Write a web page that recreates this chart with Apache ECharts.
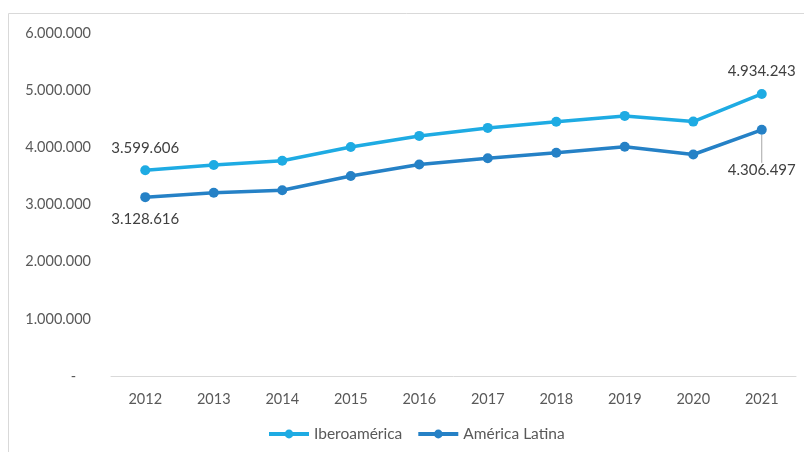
<!DOCTYPE html>
<html>
<head>
<meta charset="utf-8">
<script src="https://cdn.jsdelivr.net/npm/echarts@6/dist/echarts.min.js"></script>
<style>
  html, body { margin: 0; padding: 0; background: #fff; }
  #chart { width: 804px; height: 452px; }
</style>
</head>
<body>
<div id="chart"></div>
<script>
var years = ['2012', '2013', '2014', '2015', '2016', '2017', '2018', '2019', '2020', '2021'];
var iberoamerica = [3599606, 3690000, 3766000, 4005000, 4200000, 4340000, 4448000, 4550000, 4450000, 4934243];
var americaLatina = [3128616, 3206000, 3250000, 3500000, 3700000, 3810000, 3905000, 4010000, 3875000, 4306497];

function fmt(v) {
  if (v === 0) return '-    ';
  return String(Math.round(v)).replace(/\B(?=(\d{3})+(?!\d))/g, '.');
}

var chart = echarts.init(document.getElementById('chart'));
var labelFont = { color: '#404040', fontSize: 15, fontFamily: 'Lato' };

// only first and last points carry a value label
function points(arr, leaderOnLast) {
  return arr.map(function (v, i) {
    var edge = (i === 0 || i === arr.length - 1);
    var item = { value: v, label: { show: edge } };
    if (leaderOnLast && i === arr.length - 1) {
      item.labelLine = { show: true, lineStyle: { color: '#a6a6a6', width: 1 } };
    }
    return item;
  });
}

var option = {
  color: ['#1EABE3', '#2581C6'],
  animation: false,
  graphic: [{
    type: 'rect',
    shape: { x: 8.5, y: 13.5, width: 810, height: 460 },
    style: { fill: 'none', stroke: '#d9d9d9', lineWidth: 1 },
    silent: true
  }],
  grid: {
    left: 111,
    right: 8,
    top: 33,
    bottom: 76
  },
  legend: {
    bottom: 5,
    left: 262,
    itemWidth: 40,
    itemHeight: 11,
    itemGap: 14,
    lineStyle: { width: 4 },
    textStyle: { color: '#595959', fontSize: 15.5, fontFamily: 'Lato' },
    data: ['Iberoamérica', 'América Latina']
  },
  xAxis: {
    type: 'category',
    data: years,
    axisTick: { show: false },
    axisLine: { lineStyle: { color: '#d9d9d9', width: 1 } },
    axisLabel: { color: '#595959', fontSize: 14.5, fontFamily: 'Lato', margin: 16 }
  },
  yAxis: {
    type: 'value',
    min: 0,
    max: 6000000,
    interval: 1000000,
    splitLine: { show: false },
    axisLine: { show: false },
    axisTick: { show: false },
    axisLabel: { color: '#595959', fontSize: 14.5, fontFamily: 'Lato', margin: 20, formatter: fmt }
  },
  series: [{
    name: 'Iberoamérica',
    type: 'line',
    data: points(iberoamerica, false),
    symbol: 'circle',
    symbolSize: 10,
    lineStyle: { width: 3.5 },
    label: Object.assign({
      position: 'top',
      distance: 10,
      formatter: function (p) { return fmt(p.value); }
    }, labelFont)
  }, {
    name: 'América Latina',
    type: 'line',
    data: points(americaLatina, true),
    symbol: 'circle',
    symbolSize: 10,
    lineStyle: { width: 3.5 },
    label: Object.assign({
      position: 'bottom',
      distance: 10,
      formatter: function (p) { return fmt(p.value); }
    }, labelFont),
    labelLayout: function (p) {
      if (p.dataIndex === americaLatina.length - 1) return { dy: 18 };
      return {};
    },
    labelLine: { show: false }
  }]
};
chart.setOption(option);
</script>
</body>
</html>
